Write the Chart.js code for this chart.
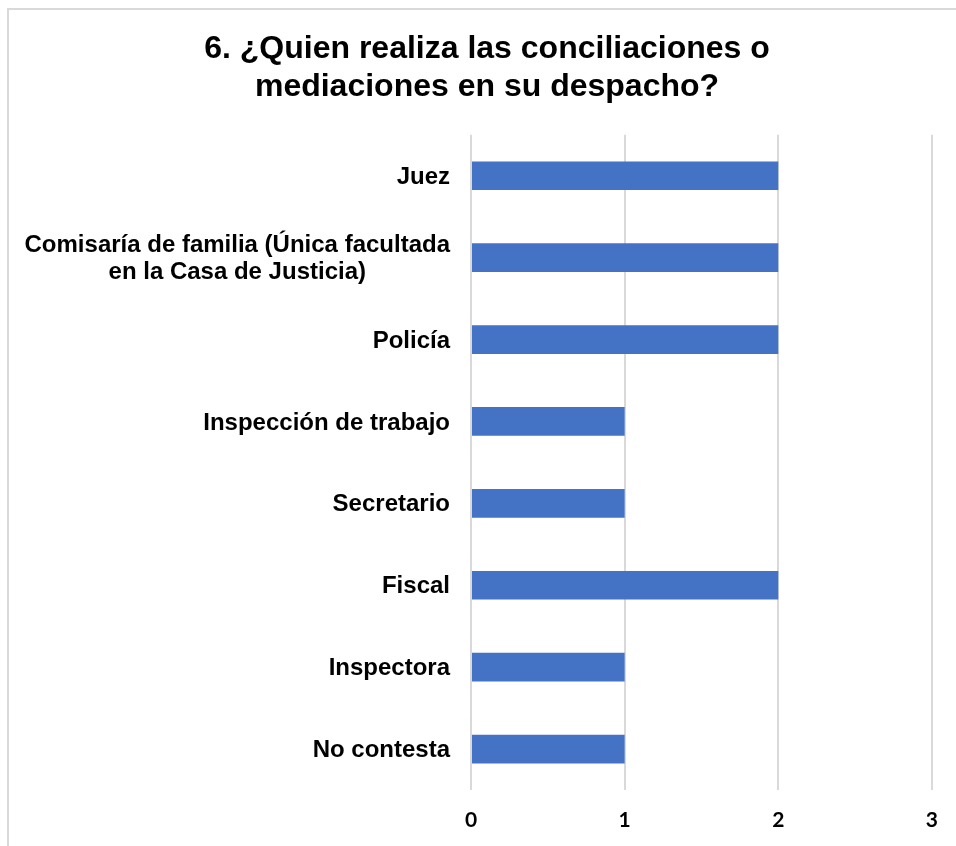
<!DOCTYPE html>
<html>
<head>
<meta charset="utf-8">
<title>Conciliaciones</title>
<script src="https://cdn.jsdelivr.net/npm/chart.js@4/dist/chart.umd.min.js"></script>
<style>
  html, body { margin: 0; padding: 0; background: #fff; }
  canvas { display: block; }
</style>
</head>
<body>
<canvas id="chart" width="956" height="846"></canvas>
<script>
// categories, top to bottom
var categorias = [
  "Juez",
  ["Comisaría de familia (Única facultada", "en la Casa de Justicia)"],
  "Policía",
  "Inspección de trabajo",
  "Secretario",
  "Fiscal",
  "Inspectora",
  "No contesta"
];
var respuestas = [2, 2, 2, 1, 1, 2, 1, 1];
var ejeX = [0, 1, 2, 3];

var labelFont = 'bold 24px "Liberation Sans", Arial, sans-serif';

// light frame around the chart (left and top edges)
var marco = {
  id: 'marco',
  beforeDraw: function (chart) {
    var ctx = chart.ctx;
    ctx.save();
    ctx.strokeStyle = '#d9d9d9';
    ctx.lineWidth = 2;
    ctx.beginPath();
    ctx.moveTo(8, 846);
    ctx.lineTo(8, 9);
    ctx.lineTo(956, 9);
    ctx.stroke();
    ctx.restore();
  }
};

// category labels: right aligned, wrapped lines centred on each other
var etiquetas = {
  id: 'etiquetas',
  afterDraw: function (chart) {
    var ctx = chart.ctx;
    var y = chart.scales.y;
    var derecha = chart.chartArea.left - 21;
    var alto = 27;
    ctx.save();
    ctx.font = labelFont;
    ctx.fillStyle = '#000';
    ctx.textAlign = 'center';
    ctx.textBaseline = 'middle';
    categorias.forEach(function (c, i) {
      var lineas = Array.isArray(c) ? c : [c];
      var ancho = Math.max.apply(null, lineas.map(function (l) { return ctx.measureText(l).width; }));
      var cx = derecha - ancho / 2;
      var cy = y.getPixelForValue(i) + 1.5 - (lineas.length - 1) * alto / 2;
      lineas.forEach(function (l, k) { ctx.fillText(l, cx, cy + k * alto); });
    });
    ctx.restore();
  }
};

new Chart(document.getElementById('chart'), {
  type: 'bar',
  data: {
    labels: categorias,
    datasets: [{
      data: respuestas,
      backgroundColor: '#4472C4',
      borderWidth: 0,
      categoryPercentage: 1,
      barPercentage: 0.35
    }]
  },
  options: {
    indexAxis: 'y',
    responsive: false,
    animation: false,
    devicePixelRatio: 1,
    layout: { padding: { left: 42, right: 24, top: 0, bottom: 0 } },
    plugins: {
      legend: { display: false },
      tooltip: { enabled: false },
      title: {
        display: true,
        text: ['6. ¿Quien realiza las conciliaciones o', 'mediaciones en su despacho?'],
        color: '#000',
        font: { family: '"Liberation Sans", Arial, sans-serif', size: 32, weight: 'bold', lineHeight: 1.2 },
        padding: { top: 30, bottom: 28 }
      }
    },
    scales: {
      x: {
        min: 0,
        max: 3,
        afterBuildTicks: function (s) { s.ticks = ejeX.map(function (v) { return { value: v }; }); },
        afterFit: function (s) { s.height = 56; },
        grid: { color: '#d9d9d9', lineWidth: 2, drawTicks: false },
        border: { display: false },
        ticks: {
          color: '#000',
          padding: 18,
          font: { family: 'Lato, "Liberation Sans", sans-serif', size: 21, weight: 'bold' }
        }
      },
      y: {
        afterFit: function (s) { s.width = 429; },
        grid: { display: false, drawTicks: false },
        border: { display: false },
        ticks: { display: false }
      }
    }
  },
  plugins: [marco, etiquetas]
});
</script>
</body>
</html>
